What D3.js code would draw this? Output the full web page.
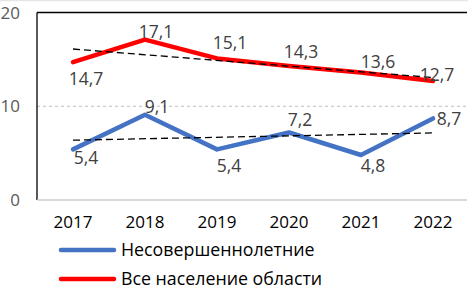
<!DOCTYPE html>
<html><head><meta charset="utf-8">
<script src="https://cdn.jsdelivr.net/npm/d3@7"></script>
<style>
html,body{margin:0;padding:0;background:#fff;}
svg{display:block;font-family:"Open Sans","Liberation Sans",sans-serif;}
</style></head>
<body>
<svg id="chart" width="468" height="299"></svg>
<script>
const years = ["2017","2018","2019","2020","2021","2022"];
const minors = [5.4, 9.1, 5.4, 7.2, 4.8, 8.7];
const allPop = [14.7, 17.1, 15.1, 14.3, 13.6, 12.7];
const seriesNames = ["Несовершеннолетние", "Все население области"];
const yTicks = [0, 10, 20];
const minorsLabelText = ["5,4","9,1","5,4","7,2","4,8","8,7"];
const allPopLabelText = ["14,7","17,1","15,1","14,3","13,6","12,7"];

// label offsets (dx from point, baseline dy from point)
const minorsLabelOff = [[13,15],[12,-2],[12,23],[11,-7],[12,17],[16,7]];
const allPopLabelOff = [[13,23],[11,-2],[13,-9],[12,-8],[17,-5],[4,0]];

const svg = d3.select("#chart");
const x = d3.scaleBand().domain(years).range([37, 469]).padding(0);
const cx = d => x(d) + x.bandwidth() / 2;
const y = d3.scaleLinear().domain([0, 20]).range([200, 12.5]);

// outer top light border
svg.append("line").attr("x1",0).attr("x2",468).attr("y1",0.5).attr("y2",0.5)
  .attr("stroke","#e6e6e6").attr("stroke-width",1.5);

// gridline at 10
svg.append("line").attr("x1",37).attr("x2",468).attr("y1",y(10)).attr("y2",y(10))
  .attr("stroke","#bfbfbf").attr("stroke-width",1).attr("stroke-dasharray","3,3");

// plot box: top and left black lines
svg.append("line").attr("x1",37).attr("x2",467).attr("y1",y(20)).attr("y2",y(20))
  .attr("stroke","#000").attr("stroke-width",1.3);
svg.append("line").attr("x1",37).attr("x2",37).attr("y1",y(20)).attr("y2",y(0))
  .attr("stroke","#000").attr("stroke-width",1.3);
// zero axis line
svg.append("line").attr("x1",37.5).attr("x2",467).attr("y1",y(0)).attr("y2",y(0))
  .attr("stroke","#d9d9d9").attr("stroke-width",2);

// y tick labels
svg.append("g").selectAll("text").data(yTicks).join("text")
  .attr("x",20).attr("y",d=>y(d)+6).attr("text-anchor","end")
  .attr("font-size",17).attr("fill","#595959").text(d=>d);

// x labels
svg.append("g").selectAll("text").data(years).join("text")
  .attr("x",d=>cx(d)).attr("y",228).attr("text-anchor","middle")
  .attr("font-size",17).attr("fill","#000").text(d=>d);

// linear trend
function trend(vals){
  const n = vals.length, mx = (n-1)/2, my = d3.mean(vals);
  let sxy=0, sxx=0;
  vals.forEach((v,i)=>{sxy+=(i-mx)*(v-my); sxx+=(i-mx)*(i-mx);});
  const b = sxy/sxx, a = my - b*mx;
  return [a, a + b*(n-1)];
}

const line = d3.line().x((d,i)=>cx(years[i])).y(d=>y(d));

function drawSeries(vals, color, labels, offs){
  svg.append("path").datum(vals).attr("d",line).attr("fill","none")
    .attr("stroke",color).attr("stroke-width",4.5)
    .attr("stroke-linejoin","round").attr("stroke-linecap","round");
  const t = trend(vals);
  svg.append("line").attr("x1",cx(years[0])).attr("x2",cx(years[years.length-1]))
    .attr("y1",y(t[0])).attr("y2",y(t[1]))
    .attr("stroke","#000").attr("stroke-width",1.3).attr("stroke-dasharray","7,4");
  svg.append("g").selectAll("text").data(vals).join("text")
    .attr("x",(d,i)=>cx(years[i])+offs[i][0]).attr("y",(d,i)=>y(d)+offs[i][1])
    .attr("text-anchor","middle").attr("font-size",17.5).attr("fill","#404040")
    .text((d,i)=>labels[i]);
}
drawSeries(allPop, "#ff0000", allPopLabelText, allPopLabelOff);
drawSeries(minors, "#4472c4", minorsLabelText, minorsLabelOff);

// legend
const legendColors = ["#4472c4","#ff0000"];
const lg = svg.append("g").selectAll("g").data(seriesNames).join("g")
  .attr("transform",(d,i)=>`translate(0,${250+i*29})`);
lg.append("line").attr("x1",61).attr("x2",114).attr("y1",0).attr("y2",0)
  .attr("stroke",(d,i)=>legendColors[i]).attr("stroke-width",4.5).attr("stroke-linecap","round");
lg.append("text").attr("x",121).attr("y",6).attr("font-size",17.8).attr("fill","#000").text(d=>d);
</script>
</body></html>
